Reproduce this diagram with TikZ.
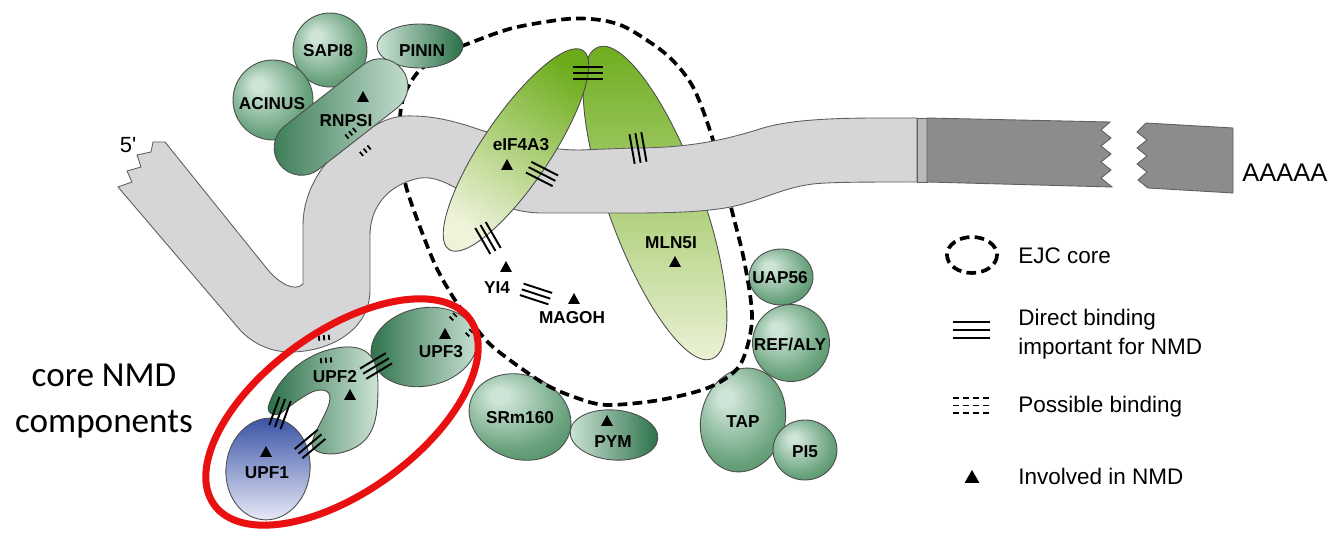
\documentclass[tikz,border=0pt]{standalone}
\usepackage{fontspec}
\setmainfont{Liberation Sans}
\newfontfamily\calfont{Carlito}
\usetikzlibrary{shapes.geometric}
\definecolor{protlight}{RGB}{205,228,214}
\definecolor{protmid}{RGB}{104,162,124}
\definecolor{protdark}{RGB}{42,112,72}
\definecolor{eiflime}{RGB}{108,172,26}
\definecolor{eifpale}{RGB}{238,243,218}
\definecolor{upfblue}{RGB}{55,80,165}
\definecolor{upfpale}{RGB}{230,233,246}
\definecolor{strandlight}{RGB}{214,214,216}
\definecolor{strandmid}{RGB}{185,185,187}
\definecolor{stranddark}{RGB}{140,140,142}
\definecolor{strandline}{RGB}{95,95,97}
\definecolor{corered}{RGB}{232,16,16}
\pgfdeclareradialshading{protball}{\pgfpoint{-10bp}{10bp}}{color(0bp)=(protlight); color(4bp)=(protlight); color(26bp)=(protmid); color(50bp)=(protdark)}
\newcommand{\bindmark}[2]{%
  \begin{scope}[shift={#1}, rotate=#2]
    \foreach \row in {-6,0,6} \draw[line width=1.1pt] (-15,\row) -- (15,\row);
  \end{scope}}
\newcommand{\possmark}[2]{%
  \begin{scope}[shift={#1}, rotate=#2]
    \foreach \row in {-5,0,5} \draw[line width=1pt, dash pattern=on 3pt off 9.9pt] (-14,\row) -- (14,\row);
  \end{scope}}
\newcommand{\nmdmark}[1]{\fill #1 ++(-6,5) -- ++(12,0) -- ++(-6,-11) -- cycle;}

\begin{document}
\begin{tikzpicture}[x=0.02cm, y=-0.02cm,
    prot/.style={ellipse, draw=black!70, line width=0.5pt, shade, shading=protball, inner sep=0pt},
    lbl/.style={font=\fontsize{9.8}{10}\selectfont\bfseries, inner sep=0pt},
    legend/.style={font=\fontsize{12.8}{16.4}\selectfont, inner sep=0pt, anchor=west, align=left},
    strand/.style={draw=strandline, line width=0.5pt, fill=strandlight},
    ejc/.style={line width=2.1pt, dash pattern=on 5.5pt off 3pt}]
  \useasboundingbox (0,0) rectangle (1330,533);

  % MLN5I sits behind the mRNA
  \node[ellipse, draw=black!70, line width=0.5pt, top color=eiflime, bottom color=eifpale,
        minimum width=6.64cm, minimum height=1.88cm, rotate=110] (mln5i) at (655,203) {};

  % outer proteins
  \node[prot, left color=protdark, right color=protlight, minimum width=2.14cm, minimum height=1.56cm, rotate=12] (upf3) at (424,347) {};
  \node[prot, minimum width=1.28cm, minimum height=1.12cm] (uap56) at (781,277) {};
  \node[prot, minimum width=1.54cm, minimum height=1.54cm] (refaly) at (791,343) {};
  \node[prot, minimum width=1.68cm, minimum height=2.1cm, rotate=-14] (tap) at (743,420) {};
  \node[prot, minimum width=1.28cm, minimum height=1.2cm] (pi5) at (805,450) {};
  \node[prot, minimum width=2.08cm, minimum height=1.68cm, rotate=-20] (srm160) at (520,417) {};
  \node[prot, left color=protlight, right color=protdark, minimum width=1.76cm, minimum height=1cm, rotate=-5] (pym) at (614,435) {};

  % EJC core
  \draw[ejc] plot[smooth cycle] coordinates {(400,117) (405,93) (420,70) (447,53) (470,43) (513,28)
    (567,19) (600,20) (627,28) (667,55) (693,87) (713,140) (733,215) (745,265) (752,320) (740,365)
    (710,387) (660,400) (607,405) (577,398) (543,383) (493,347) (470,320) (453,297) (433,260)
    (407,190) (401,150)};

  \node[prot, minimum width=1.48cm, minimum height=1.48cm] (sapi8) at (330,50) {};
  \node[prot, left color=protlight, right color=protdark, minimum width=1.72cm, minimum height=0.88cm] (pinin) at (420,46) {};
  \node[prot, minimum width=1.6cm, minimum height=1.6cm] (acinus) at (273,100) {};

  % mRNA
  \filldraw[strand] (153,142) -- (165,142) -- (268,270)
    .. controls (280,284) and (295,292) .. (303,284) -- (303,225)
    .. controls (303,195) and (320,160) .. (353,140)
    .. controls (370,128) and (385,117) .. (405,116)
    .. controls (440,115) and (465,125) .. (490,133)
    .. controls (520,142) and (545,150) .. (580,150) -- (633,148)
    .. controls (690,148) and (725,140) .. (763,128)
    .. controls (790,120) and (830,118) .. (880,118) -- (917,118) -- (917,182)
    .. controls (870,182) and (830,182) .. (813,184)
    .. controls (780,188) and (760,202) .. (725,208)
    .. controls (700,212) and (670,213) .. (633,213) -- (540,213)
    .. controls (505,212) and (482,196) .. (460,190)
    .. controls (448,184) and (435,176) .. (420,178)
    .. controls (385,185) and (370,210) .. (370,235) -- (370,290)
    .. controls (370,330) and (330,352) .. (290,352)
    .. controls (270,352) and (252,343) .. (240,330) -- (118,187)
    -- (132,182) -- (127,171) -- (141,167) -- (137,155) -- (151,152) -- cycle;
  \filldraw[strand, fill=strandmid] (917,118) rectangle (927,182);
  \filldraw[strand, fill=stranddark] (927,118) -- (1110,122) -- (1101,130) -- (1111,138) -- (1101,146)
    -- (1111,154) -- (1101,162) -- (1111,170) -- (1101,178) -- (1112,187) -- (927,182) -- cycle;
  \filldraw[strand, fill=stranddark] (1146,123) -- (1233,128) -- (1233,193) -- (1148,188) -- (1138,180)
    -- (1147,172) -- (1137,164) -- (1147,156) -- (1137,148) -- (1147,140) -- (1137,132) -- cycle;

  % proteins in front of the mRNA
  \node[ellipse, draw=black!70, line width=0.5pt, left color=eifpale, right color=eiflime, shading angle=146,
        minimum width=4.8cm, minimum height=1.36cm, rotate=56] (eif4a3) at (516,150) {};
  \node[draw=black!70, line width=0.5pt, left color=protdark!85!protmid, right color=protlight,
        rounded corners=0.55cm, minimum width=3.1cm, minimum height=1.1cm, rotate=38] (rnpsi) at (341,117) {};
  \filldraw[draw=black!70, line width=0.5pt, left color=protdark, right color=protlight]
    (268,408) .. controls (275,380) and (305,350) .. (345,347)
    .. controls (370,346) and (378,360) .. (378,385)
    .. controls (378,420) and (375,445) .. (340,453)
    .. controls (325,456) and (312,452) .. (312,444)
    .. controls (314,430) and (330,410) .. (330,398)
    .. controls (330,390) and (322,388) .. (312,392)
    .. controls (300,398) and (290,406) .. (280,414)
    .. controls (274,416) and (268,414) .. (268,408) -- cycle;
  \node[ellipse, draw=black!70, line width=0.5pt, top color=upfblue, bottom color=upfpale,
        minimum width=1.68cm, minimum height=2.04cm, rotate=-7] (upf1) at (268,469) {};

  % binding marks
  \bindmark{(588,73)}{0}
  \bindmark{(638,148)}{100}
  \bindmark{(542,174)}{-27}
  \bindmark{(488,238)}{-60}
  \bindmark{(536,294)}{-18}
  \bindmark{(376,366)}{31}
  \bindmark{(280,413)}{70}
  \bindmark{(310,444)}{40}
  \possmark{(358,142)}{-50}
  \possmark{(325,349)}{95}
  \possmark{(463,323)}{-45}

  % involved in NMD
  \nmdmark{(363,97)}
  \nmdmark{(507,165)}
  \nmdmark{(675,262)}
  \nmdmark{(506,267)}
  \nmdmark{(574,299)}
  \nmdmark{(350,395)}
  \nmdmark{(445,334)}
  \nmdmark{(266,452)}
  \nmdmark{(607,421)}

  % labels
  \node[lbl] at (328,51) {SAPI8};
  \node[lbl] at (422,51) {PININ};
  \node[lbl] at (272,104) {ACINUS};
  \node[lbl] at (346,121) {RNPSI};
  \node[lbl] at (521,145) {eIF4A3};
  \node[lbl] at (671,243) {MLN5I};
  \node[lbl] at (497,288) {YI4};
  \node[lbl] at (572,318) {MAGOH};
  \node[lbl] at (780,278) {UAP56};
  \node[lbl] at (790,344) {REF/ALY};
  \node[lbl] at (743,422) {TAP};
  \node[lbl] at (805,452) {PI5};
  \node[lbl] at (520,418) {SRm160};
  \node[lbl] at (613,442) {PYM};
  \node[lbl] at (441,352) {UPF3};
  \node[lbl] at (335,377) {UPF2};
  \node[lbl] at (267,473) {UPF1};
  \node[font=\fontsize{12.5}{13}\selectfont, inner sep=0pt] (five) at (128,145) {5\textquotesingle};
  \node[font=\fontsize{14.5}{15}\selectfont, inner sep=0pt, anchor=base west] (polya) at (1242,182) {AAAAA};

  % core NMD components
  \node[ellipse, draw=corered, line width=4pt, minimum width=6.32cm, minimum height=3.2cm, rotate=36] (core) at (342,412) {};
  \node[font=\calfont\fontsize{20}{26}\selectfont, align=center, inner sep=0pt] (coretext) at (104,401) {core NMD\\components};

  % legend
  \draw[ejc] (972,255) ellipse [x radius=25, y radius=18];
  \foreach \yy in {322,330,338} \draw[line width=1.1pt] (953,\yy) -- (990,\yy);
  \foreach \yy in {398,405.5,413} \draw[line width=1.1pt, dash pattern=on 3.4pt off 2.3pt] (953,\yy) -- (990,\yy);
  \fill (972,477) ++(-7.5,6) -- ++(15,0) -- ++(-7.5,-13) -- cycle;
  \node[legend, anchor=base west] (legejc) at (1018,264) {EJC core};
  \node[legend] (legdirect) at (1018,334) {Direct binding\\important for NMD};
  \node[legend, anchor=base west] (legposs) at (1018,413) {Possible binding};
  \node[legend, anchor=base west] (legnmd) at (1018,485) {Involved in NMD};
\end{tikzpicture}
\end{document}
